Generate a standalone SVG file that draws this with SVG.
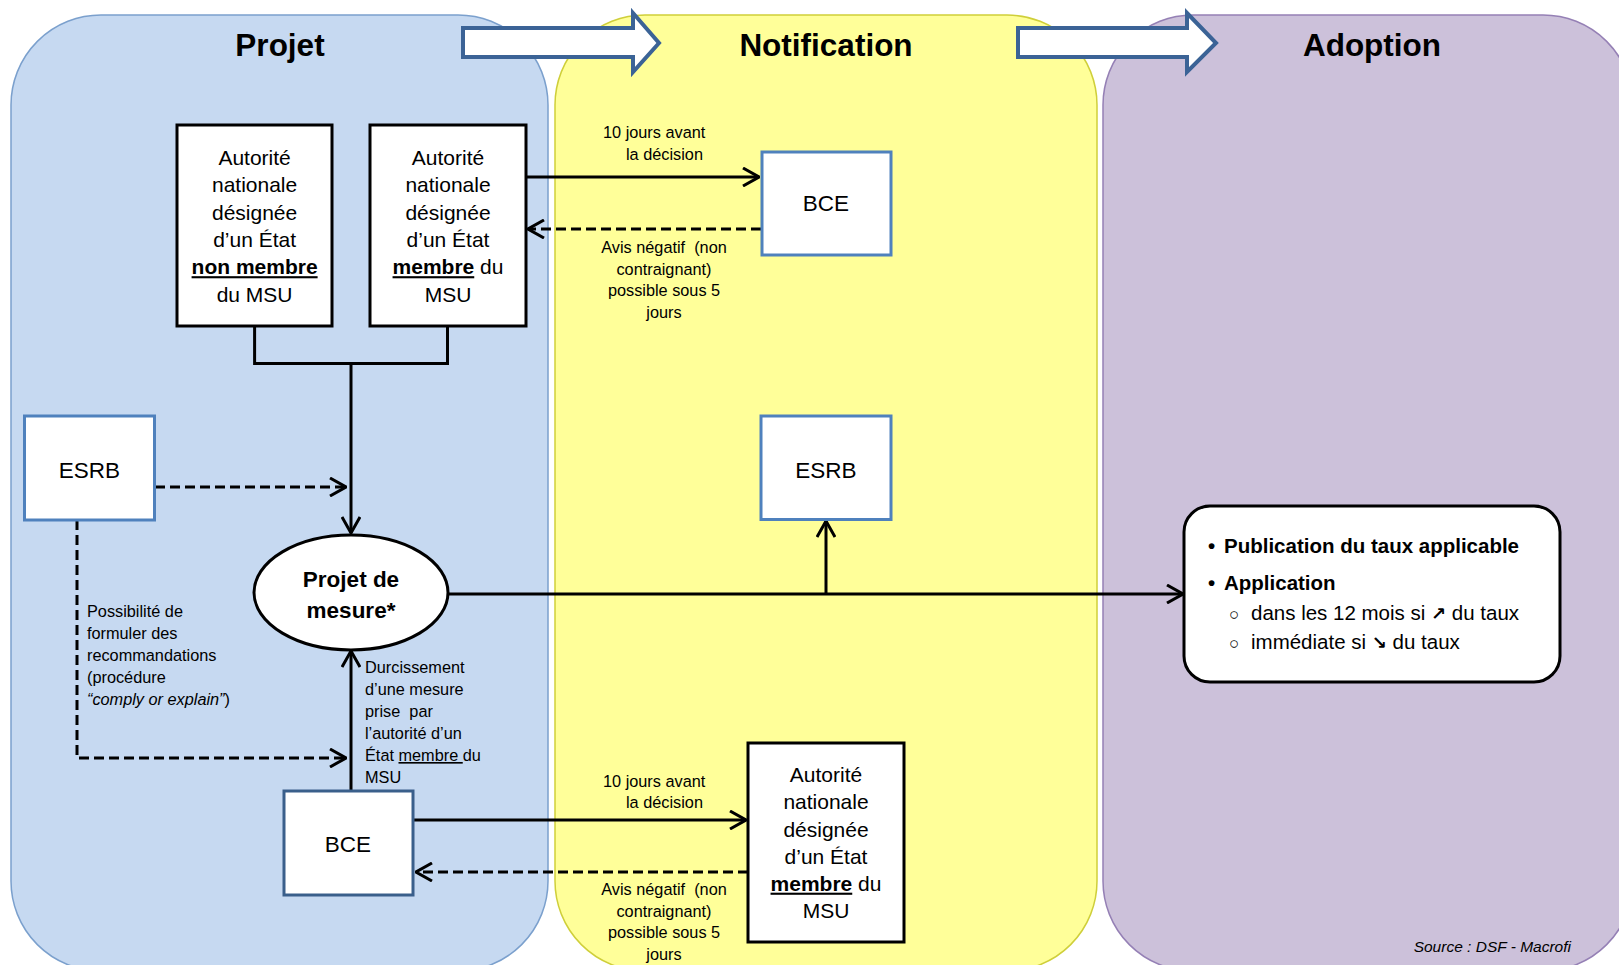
<svg xmlns="http://www.w3.org/2000/svg" width="1619" height="965" viewBox="0 0 1619 965">
<defs>
<style>
.t{font-family:"Liberation Sans",Arial,sans-serif;fill:#000}
.title{font-size:31.5px;font-weight:bold;text-anchor:middle}
.bx{font-size:21px;text-anchor:middle}
.big{font-size:22.5px;text-anchor:middle}
.lb{font-size:16.3px}
.lbc{font-size:16.3px;text-anchor:middle}
.node{fill:#fff;stroke:#000;stroke-width:3}
.bnode{fill:#fff;stroke:#4F81BD;stroke-width:3}
.ln{fill:none;stroke:#000;stroke-width:3}
.dash{fill:none;stroke:#000;stroke-width:3;stroke-dasharray:10 5}
.blk{fill:#fff;stroke:#3B6396;stroke-width:4;stroke-linejoin:miter}
</style>
<marker id="ah" viewBox="0 0 18 20" refX="17" refY="10" markerWidth="18" markerHeight="20" markerUnits="userSpaceOnUse" orient="auto">
<path d="M1,1 L17,10 L1,19" fill="none" stroke="#000" stroke-width="3"/>
</marker>
</defs>

<g id="panel-projet">
<rect x="11" y="15" width="537" height="956" rx="90" ry="90" fill="#C6D9F1" stroke="#7BA0CD" stroke-width="1.5"/>
<text class="t title" x="280" y="56">Projet</text>
</g>
<g id="panel-notification">
<rect x="555" y="15" width="542" height="956" rx="90" ry="90" fill="#FFFF99" stroke="#CFCF3A" stroke-width="1.5"/>
<text class="t title" x="826" y="56">Notification</text>
</g>
<g id="panel-adoption">
<rect x="1103" y="15" width="530" height="956" rx="90" ry="90" fill="#CCC1DA" stroke="#9580B5" stroke-width="1.5"/>
<text class="t title" x="1372" y="56">Adoption</text>
</g>

<g id="block-arrows">
<polygon class="blk" points="463,28 633,28 633,13 659,43 633,72 633,57 463,57"/>
<polygon class="blk" points="1018,28 1187,28 1187,13 1216,43 1187,72 1187,57 1018,57"/>
</g>

<g id="connectors">
<path class="ln" d="M254.6,326 V363.5 H447.5 V326"/>
<path class="ln" d="M351,363.5 V533" marker-end="url(#ah)"/>
<path class="dash" d="M155,487 H346" marker-end="url(#ah)"/>
<path class="dash" d="M77,520 V758 H346" marker-end="url(#ah)"/>
<path class="ln" d="M351,791 V651" marker-end="url(#ah)"/>
<path class="ln" d="M413,820 H746" marker-end="url(#ah)"/>
<path class="dash" d="M748,872 H416" marker-end="url(#ah)"/>
<path class="ln" d="M526,177 H759" marker-end="url(#ah)"/>
<path class="dash" d="M761,229 H528" marker-end="url(#ah)"/>
<path class="ln" d="M448,594 H1183" marker-end="url(#ah)"/>
<path class="ln" d="M826,594 V521" marker-end="url(#ah)"/>
</g>

<g id="labels">
<text class="t lb" x="603" y="138">10 jours avant</text>
<text class="t lb" x="626" y="160">la décision</text>
<text class="t lbc" x="664" y="253">Avis négatif&#160; (non</text>
<text class="t lbc" x="664" y="274.5">contraignant)</text>
<text class="t lbc" x="664" y="296">possible sous 5</text>
<text class="t lbc" x="664" y="317.5">jours</text>

<text class="t lb" x="603" y="786.5">10 jours avant</text>
<text class="t lb" x="626" y="808">la décision</text>
<text class="t lbc" x="664" y="895">Avis négatif&#160; (non</text>
<text class="t lbc" x="664" y="916.5">contraignant)</text>
<text class="t lbc" x="664" y="938">possible sous 5</text>
<text class="t lbc" x="664" y="959.5">jours</text>

<text class="t lb" x="87" y="617">Possibilité de</text>
<text class="t lb" x="87" y="639">formuler des</text>
<text class="t lb" x="87" y="661">recommandations</text>
<text class="t lb" x="87" y="683">(procédure</text>
<text class="t lb" x="87" y="705"><tspan font-style="italic">“comply or explain”</tspan>)</text>

<text class="t lb" x="365" y="673">Durcissement</text>
<text class="t lb" x="365" y="695">d’une mesure</text>
<text class="t lb" x="365" y="717">prise&#160; par</text>
<text class="t lb" x="365" y="739">l’autorité d’un</text>
<text class="t lb" x="365" y="761">État <tspan text-decoration="underline">membre&#160;</tspan>du</text>
<text class="t lb" x="365" y="783">MSU</text>
</g>

<g id="node-anc-nonmembre">
<rect class="node" x="177" y="125" width="155" height="201"/>
<text class="t bx" x="254.6" y="165">Autorité</text>
<text class="t bx" x="254.6" y="192.3">nationale</text>
<text class="t bx" x="254.6" y="219.6">désignée</text>
<text class="t bx" x="254.6" y="246.9">d’un État</text>
<text class="t bx" x="254.6" y="274.2" font-weight="bold" text-decoration="underline">non membre</text>
<text class="t bx" x="254.6" y="301.5">du MSU</text>
</g>

<g id="node-anc-membre">
<rect class="node" x="370" y="125" width="156" height="201"/>
<text class="t bx" x="448" y="165">Autorité</text>
<text class="t bx" x="448" y="192.3">nationale</text>
<text class="t bx" x="448" y="219.6">désignée</text>
<text class="t bx" x="448" y="246.9">d’un État</text>
<text class="t bx" x="448" y="274.2"><tspan font-weight="bold" text-decoration="underline">membre</tspan> du</text>
<text class="t bx" x="448" y="301.5">MSU</text>
</g>

<g id="node-bce-top">
<rect class="bnode" x="762" y="152" width="129" height="103"/>
<text class="t big" x="826" y="211">BCE</text>
</g>

<g id="node-esrb-left">
<rect class="bnode" x="24.5" y="416" width="130" height="104"/>
<text class="t big" x="89.5" y="478">ESRB</text>
</g>

<g id="node-esrb-mid">
<rect class="bnode" x="761" y="416" width="130" height="103.5"/>
<text class="t big" x="826" y="478">ESRB</text>
</g>

<g id="node-projet-mesure">
<ellipse cx="351" cy="592.5" rx="97" ry="57.5" fill="#fff" stroke="#000" stroke-width="3"/>
<text class="t" x="351" y="586.5" font-size="22.5" font-weight="bold" text-anchor="middle">Projet de</text>
<text class="t" x="351" y="618" font-size="22.5" font-weight="bold" text-anchor="middle">mesure*</text>
</g>

<g id="node-bce-bottom">
<rect x="284" y="791" width="129" height="104" fill="#fff" stroke="#3A5F8B" stroke-width="3"/>
<text class="t big" x="348" y="852">BCE</text>
</g>

<g id="node-anc-bottom">
<rect class="node" x="748" y="743" width="156" height="199"/>
<text class="t bx" x="826" y="781.7">Autorité</text>
<text class="t bx" x="826" y="809">nationale</text>
<text class="t bx" x="826" y="836.5">désignée</text>
<text class="t bx" x="826" y="863.5">d’un État</text>
<text class="t bx" x="826" y="890.7"><tspan font-weight="bold" text-decoration="underline">membre</tspan> du</text>
<text class="t bx" x="826" y="918">MSU</text>
</g>

<g id="node-adoption">
<rect x="1184" y="506" width="376" height="176" rx="26" ry="26" fill="#fff" stroke="#000" stroke-width="3"/>
<text class="t" x="1208" y="553" font-size="20.5" font-weight="bold">•</text>
<text class="t" x="1224" y="553" font-size="20.5" font-weight="bold">Publication du taux applicable</text>
<text class="t" x="1208" y="590" font-size="20.5" font-weight="bold">•</text>
<text class="t" x="1224" y="590" font-size="20.5" font-weight="bold">Application</text>
<text class="t" x="1229" y="620" font-size="17">○</text>
<text class="t" x="1251" y="620" font-size="20.5">dans les 12 mois si <tspan font-family="DejaVu Sans" font-weight="bold" font-size="18">↗</tspan> du taux</text>
<text class="t" x="1229" y="648.5" font-size="17">○</text>
<text class="t" x="1251" y="648.5" font-size="20.5">immédiate si <tspan font-family="DejaVu Sans" font-weight="bold" font-size="18">↘</tspan> du taux</text>
</g>

<g id="source">
<text class="t" x="1571" y="951.5" font-size="15.5" font-style="italic" text-anchor="end">Source : DSF - Macrofi</text>
</g>
</svg>
